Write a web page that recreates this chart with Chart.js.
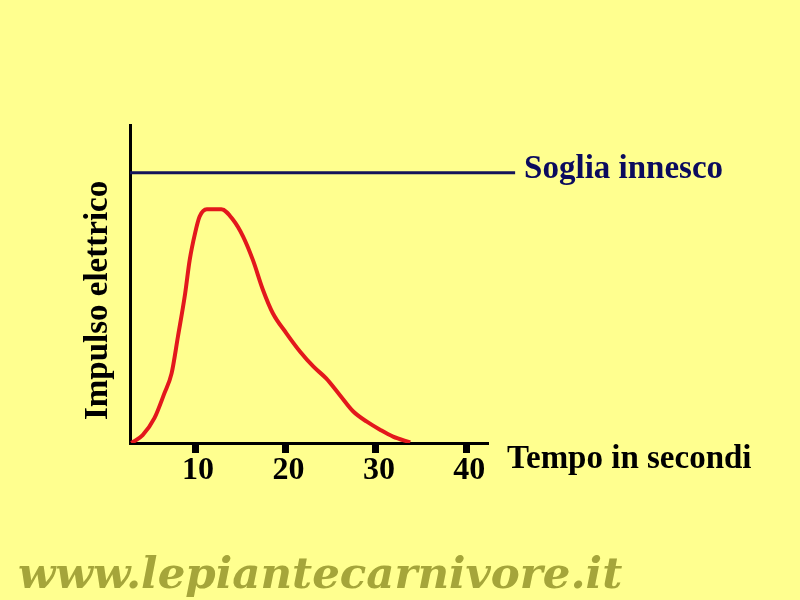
<!DOCTYPE html>
<html>
<head>
<meta charset="utf-8">
<script src="https://cdn.jsdelivr.net/npm/chart.js@4.4.1/dist/chart.umd.min.js"></script>
<style>
    html, body { margin: 0; padding: 0; background: #ffff8f; }
    #wrap { width: 800px; height: 600px; }
</style>
</head>
<body>
<div id="wrap"><canvas id="impulseChart" width="800" height="600"></canvas></div>
<script>
// dati
const timeSec = [2.95, 4.2, 5.5, 6.6, 7.4, 8.1, 8.9, 9.4, 10.0, 10.5, 11.3, 12.9, 14.2, 15.3, 16.4, 17.5, 18.6, 20.1, 21.6, 23.1, 24.5, 26.0, 27.5, 29.0, 30.5, 31.9, 33.8];
const impulse = [0, 2.5, 7.8, 15.6, 21.9, 33.4, 47, 57.5, 66, 71.2, 73.5, 73.5, 70.2, 65, 57.5, 48.2, 40.8, 34.5, 28.8, 24, 20.3, 15.1, 9.9, 6.7, 4.1, 2.0, 0.2];
const xTickValues = [10, 20, 30, 40];
const thresholdLevel = 85;
const thresholdStart = 2.8;
const thresholdEnd = 45.4;

const xTitle = 'Tempo in secondi';
const yTitle = 'Impulso elettrico';
const thresholdLabel = 'Soglia innesco';
const siteLabel = 'www.lepiantecarnivore.it';

const BG = '#ffff8f';
const SERIF = '"Liberation Serif", "Times New Roman", serif';

const labelsPlugin = {
    id: 'labelsPlugin',
    beforeDraw(chart) {
        const c = chart.ctx;
        c.save();
        c.fillStyle = BG;
        c.fillRect(0, 0, chart.width, chart.height);
        c.restore();
    },
    afterDraw(chart) {
        const c = chart.ctx;
        const area = chart.chartArea;
        c.save();
        c.font = 'bold 33px ' + SERIF;
        c.textBaseline = 'alphabetic';

        // titolo asse y (ruotato)
        c.save();
        c.fillStyle = '#000';
        c.translate(area.left - 23, area.bottom - 23);
        c.rotate(-Math.PI / 2);
        c.textAlign = 'left';
        c.fillText(yTitle, 0, 0);
        c.restore();

        // titolo asse x a destra dell'asse
        c.fillStyle = '#000';
        c.textAlign = 'left';
        c.fillText(xTitle, area.right + 19, area.bottom + 25);

        // etichetta soglia
        const meta = chart.getDatasetMeta(1);
        const last = meta.data[meta.data.length - 1];
        c.fillStyle = '#0b0b5e';
        c.fillText(thresholdLabel, last.x + 9, last.y + 5);

        // scritta del sito
        let size = 48;
        c.font = 'italic bold ' + size + 'px "DejaVu Serif", serif';
        const w = c.measureText(siteLabel).width;
        size = size * 604 / w;
        c.font = 'italic bold ' + size.toFixed(1) + 'px "DejaVu Serif", serif';
        c.fillStyle = '#a5a53a';
        c.fillText(siteLabel, 18, 588);
        c.restore();
    }
};

const curveData = timeSec.map((t, i) => ({ x: t, y: impulse[i] }));
const thresholdData = [
    { x: thresholdStart, y: thresholdLevel },
    { x: thresholdEnd, y: thresholdLevel }
];

new Chart(document.getElementById('impulseChart'), {
    type: 'line',
    data: {
        datasets: [{
            label: 'Impulso',
            data: curveData,
            borderColor: '#e3181c',
            borderWidth: 4,
            cubicInterpolationMode: 'monotone',
            pointRadius: 0,
            fill: false
        }, {
            label: 'Soglia',
            data: thresholdData,
            borderColor: '#14145a',
            borderWidth: 3,
            pointRadius: 0,
            clip: false,
            fill: false
        }]
    },
    options: {
        responsive: false,
        animation: false,
        layout: {
            padding: { left: 120, right: 312, top: 125, bottom: 97 }
        },
        scales: {
            x: {
                type: 'linear',
                min: 2.8,
                max: 42.4,
                afterBuildTicks: (scale) => {
                    scale.ticks = xTickValues.map(v => ({ value: v }));
                },
                afterFit: (scale) => { scale.height = 60; },
                grid: {
                    display: true,
                    drawOnChartArea: false,
                    drawTicks: true,
                    tickLength: 10,
                    tickWidth: 7,
                    tickColor: '#000'
                },
                border: { display: true, color: '#000', width: 3 },
                ticks: {
                    color: '#000',
                    padding: -1,
                    labelOffset: 3,
                    maxRotation: 0,
                    font: { family: SERIF, size: 32, weight: 'bold' }
                }
            },
            y: {
                min: 0,
                max: 100,
                afterFit: (scale) => { scale.width = 10; },
                grid: { display: false },
                border: { display: true, color: '#000', width: 3 },
                ticks: { display: false }
            }
        },
        plugins: {
            legend: { display: false },
            tooltip: { enabled: false }
        }
    },
    plugins: [labelsPlugin]
});
</script>
</body>
</html>
